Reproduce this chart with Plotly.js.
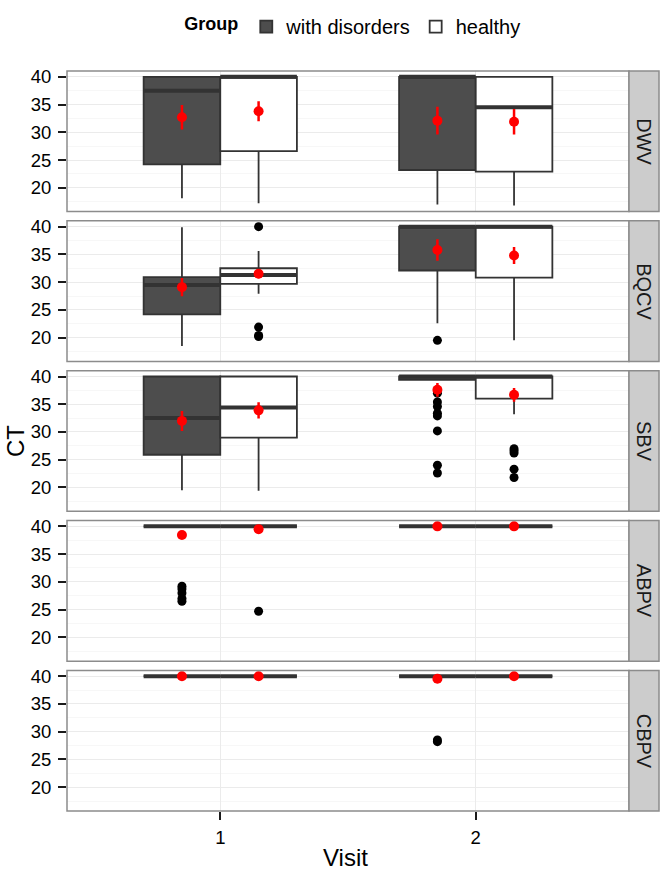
<!DOCTYPE html>
<html>
<head>
<meta charset="utf-8">
<script src="https://cdn.plot.ly/plotly-3.0.1.min.js"></script>
<style>html,body{margin:0;padding:0;background:#fff;}#chart{width:665px;height:872px;}</style>
</head>
<body>
<div id="chart"></div>
<script>
// ---- data ----
const measures = ['DWV', 'BQCV', 'SBV', 'ABPV', 'CBPV'];
const visits = [1, 2];
const groupNames = ['with disorders', 'healthy'];

// box statistics, rows = measures, columns = visits
const disQ1     = [[24.2, 23.2], [24.2, 32.1], [25.9, 39.4], [40, 40], [40, 40]];
const disMedian = [[37.5, 40.0], [29.5, 40.0], [32.5, 40.0], [40, 40], [40, 40]];
const disQ3     = [[40.0, 40.0], [30.9, 40.0], [40.0, 40.0], [40, 40], [40, 40]];
const disLower  = [[18.1, 17.0], [18.5, 22.6], [19.5, 39.4], [40, 40], [40, 40]];
const disUpper  = [[40.0, 40.0], [39.9, 40.0], [40.0, 40.0], [40, 40], [40, 40]];
const disMean   = [[32.7, 32.1], [29.1, 35.8], [32.0, 37.6], [38.45, 40.0], [40.0, 39.55]];
const disErr    = [[2.2, 2.5], [1.65, 1.95], [1.8, 1.25], [0.4, 0], [0, 0.1]];

const hQ1     = [[26.6, 22.9], [29.7, 30.8], [29.0, 36.0], [40, 40], [40, 40]];
const hMedian = [[40.0, 34.5], [31.3, 40.0], [34.4, 40.0], [40, 40], [40, 40]];
const hQ3     = [[40.0, 40.0], [32.5, 40.0], [40.0, 40.0], [40, 40], [40, 40]];
const hLower  = [[17.2, 16.8], [27.9, 19.5], [19.4, 33.2], [40, 40], [40, 40]];
const hUpper  = [[40.0, 40.0], [35.6, 40.0], [40.0, 40.0], [40, 40], [40, 40]];
const hMean   = [[33.8, 31.9], [31.5, 34.8], [33.9, 36.7], [39.5, 40.0], [40.0, 40.0]];
const hErr    = [[1.8, 2.3], [0.8, 1.55], [1.45, 1.25], [0.15, 0], [0, 0]];

// outliers, rows = measures, columns = visits
const disOut = [[[], []], [[], [19.5]], [[], [37.0, 35.4, 34.6, 33.4, 32.9, 30.2, 24.0, 22.6]],
                [[29.2, 28.7, 28.0, 27.0, 26.5], []], [[], [28.5, 28.2]]];
const hOut   = [[[], []], [[40.0, 21.9, 20.4, 20.2], []], [[], [27.0, 26.6, 26.2, 23.3, 21.8]],
                [[24.7], []], [[], []]];

const yTicks = [20, 25, 30, 35, 40];
const xTickLabels = ['1', '2'];

// ---- style ----
const dodge = [-0.15, 0.15];
const boxWidth = 0.3;
const fills = ['#4d4d4d', '#ffffff'];
const stats = [
  {q1: disQ1, med: disMedian, q3: disQ3, lo: disLower, up: disUpper, mean: disMean, err: disErr, out: disOut},
  {q1: hQ1, med: hMedian, q3: hQ3, lo: hLower, up: hUpper, mean: hMean, err: hErr, out: hOut}
];

const gap = 0.0125;
const ph = (1 - 4 * gap) / 5;
const axName = i => (i === 0 ? 'y' : 'y' + (i + 1));
const axKey = i => (i === 0 ? 'yaxis' : 'yaxis' + (i + 1));

const boxes = [], medians = [], outs = [], means = [];
measures.forEach((m, i) => {
  stats.forEach((s, g) => {
    const xs = visits.map(v => v + dodge[g]);
    boxes.push({
      type: 'box', xaxis: 'x', yaxis: axName(i),
      x: xs, q1: s.q1[i], median: s.med[i], q3: s.q3[i],
      lowerfence: s.lo[i], upperfence: s.up[i],
      width: boxWidth, fillcolor: fills[g],
      line: {color: '#333333', width: 1.8}, whiskerwidth: 0,
      boxpoints: false, name: groupNames[g], legendgroup: 'g' + g,
      showlegend: i === 0, hoverinfo: 'skip'
    });
    // thicker median bar (as ggplot draws it)
    const mx = [], my = [];
    xs.forEach((x, k) => { mx.push(x - boxWidth / 2, x + boxWidth / 2, null); my.push(s.med[i][k], s.med[i][k], null); });
    medians.push({
      type: 'scatter', mode: 'lines', xaxis: 'x', yaxis: axName(i), x: mx, y: my,
      line: {color: '#333333', width: 4}, showlegend: false, hoverinfo: 'skip', connectgaps: false
    });
    const ox = [], oy = [];
    visits.forEach((v, k) => s.out[i][k].forEach(val => { ox.push(v + dodge[g]); oy.push(val); }));
    outs.push({
      type: 'scatter', mode: 'markers', xaxis: 'x', yaxis: axName(i),
      x: ox, y: oy, marker: {color: '#000000', size: 9}, showlegend: false, hoverinfo: 'skip'
    });
    means.push({
      type: 'scatter', mode: 'markers', xaxis: 'x', yaxis: axName(i),
      x: xs, y: s.mean[i],
      error_y: {type: 'data', array: s.err[i], color: '#ff0000', thickness: 2.5, width: 0},
      marker: {color: '#ff0000', size: 10}, showlegend: false, hoverinfo: 'skip'
    });
  });
});

const layout = {
  width: 665, height: 872,
  margin: {l: 67, r: 36, t: 71, b: 61},
  paper_bgcolor: '#ffffff', plot_bgcolor: '#ffffff',
  font: {family: 'Liberation Sans, Arial, sans-serif', color: '#000000'},
  showlegend: true,
  legend: {
    orientation: 'h', x: 0.532, xanchor: 'center', xref: 'container',
    y: 0.9695, yanchor: 'middle', yref: 'container', valign: 'middle',
    title: {text: '<b>Group</b>', side: 'left', font: {size: 18}},
    font: {size: 20}, traceorder: 'normal', itemwidth: 30
  },
  xaxis: {
    domain: [0, 1], anchor: 'y5', range: [0.4, 2.6],
    tickvals: visits, ticktext: xTickLabels,
    showgrid: true, gridcolor: '#ebebeb', gridwidth: 1,
    zeroline: false, showline: false,
    ticks: 'outside', ticklen: 8, tickcolor: '#1a1a1a', tickwidth: 2,
    ticklabelstandoff: 2,
    tickfont: {size: 18.5, color: '#000000'}
  },
  shapes: [],
  annotations: [
    {text: 'CT', xref: 'paper', yref: 'paper', x: -0.0925, y: 0.5, xanchor: 'center', yanchor: 'middle',
     textangle: -90, showarrow: false, font: {size: 24, color: '#000000'}},
    {text: 'Visit', xref: 'paper', yref: 'paper', x: 0.4947, y: -0.0635, xanchor: 'center', yanchor: 'middle',
     showarrow: false, font: {size: 24, color: '#000000'}}
  ]
};

measures.forEach((m, i) => {
  const top = 1 - i * (ph + gap);
  layout[axKey(i)] = {
    domain: [top - ph, top], anchor: 'x', range: [15.7, 41.05],
    tickvals: yTicks, ticktext: yTicks.map(String),
    showgrid: true, gridcolor: '#ebebeb', gridwidth: 1,
    minor: {dtick: 2.5, tick0: 0, showgrid: true, gridcolor: '#f7f7f7', gridwidth: 1, ticks: ''},
    zeroline: false, showline: false,
    ticks: 'outside', ticklen: 8, tickcolor: '#1a1a1a', tickwidth: 2,
    ticklabelstandoff: 3,
    tickfont: {size: 18.5, color: '#000000'}
  };
  const yd = axName(i) + ' domain';
  layout.shapes.push({type: 'rect', xref: 'x domain', yref: yd, x0: 0, x1: 1, y0: 0, y1: 1,
    line: {color: '#8c8c8c', width: 1.5}, fillcolor: 'rgba(0,0,0,0)', layer: 'above'});
  layout.shapes.push({type: 'rect', xref: 'x domain', yref: yd, x0: 1, x1: 1.0534, y0: 0, y1: 1,
    line: {color: '#8c8c8c', width: 1.5}, fillcolor: '#cccccc', layer: 'above'});
  layout.annotations.push({text: m, xref: 'x domain', yref: yd, x: 1.0267, y: 0.5,
    xanchor: 'center', yanchor: 'middle', textangle: 90, showarrow: false,
    font: {size: 20, color: '#1a1a1a'}});
});

Plotly.newPlot('chart', boxes.concat(medians, outs, means), layout, {displayModeBar: false, staticPlot: true});
</script>
</body>
</html>
